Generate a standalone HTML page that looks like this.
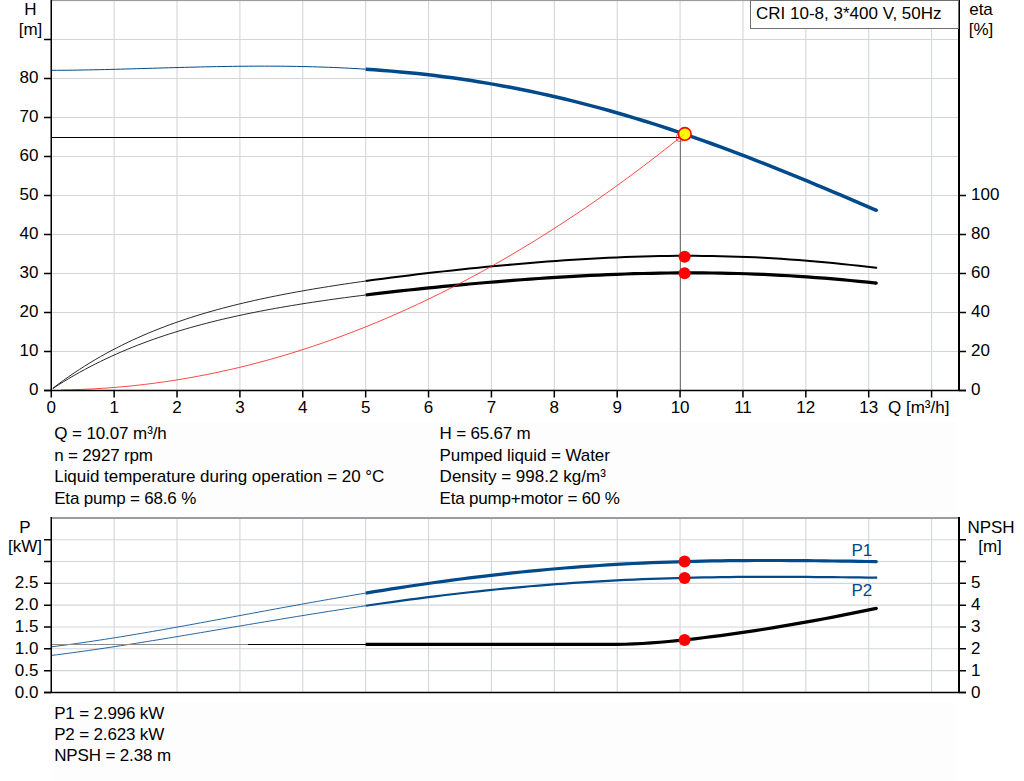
<!DOCTYPE html><html><head><meta charset="utf-8"><style>html,body{margin:0;padding:0;background:#fff;width:1024px;height:781px;overflow:hidden}svg{display:block}</style></head><body>
<svg width="1024" height="781" viewBox="0 0 1024 781">
<rect width="1024" height="781" fill="#fff"/>
<rect x="51.5" y="423" width="905.5" height="94" fill="#fdfdfd"/>
<rect x="51.5" y="703.3" width="905.5" height="80" fill="#fdfdfd"/>
<rect x="886" y="396.7" width="71" height="21.3" fill="#fdfdfd"/>
<path d="M114.15,0 V390 M177.03,0 V390 M239.91,0 V390 M302.79,0 V390 M365.67,0 V390 M428.55,0 V390 M491.43,0 V390 M554.31,0 V390 M617.19,0 V390 M680.07,0 V390 M742.95,0 V390 M805.83,0 V390 M868.71,0 V390 M931.59,0 V390 M51,351.50 H959 M51,312.50 H959 M51,273.50 H959 M51,234.50 H959 M51,195.50 H959 M51,156.50 H959 M51,117.50 H959 M51,78.50 H959 M51,39.50 H959" stroke="#d3d6d9" stroke-width="1.1" fill="none"/>
<rect x="51" y="0" width="908" height="1.1" fill="#9a9c9f"/>
<path d="M51,137.5 H680" stroke="#000" stroke-width="1.2" fill="none"/>
<path d="M680.4,137.5 V390" stroke="#6a6a6a" stroke-width="1" fill="none"/>
<path d="M51.27,70.34 L56.60,70.31 L61.93,70.28 L67.26,70.23 L72.59,70.16 L77.91,70.09 L83.24,70.00 L88.57,69.90 L93.90,69.79 L99.23,69.68 L104.56,69.56 L109.89,69.43 L115.22,69.29 L120.54,69.15 L125.87,69.00 L131.20,68.85 L136.53,68.70 L141.86,68.55 L147.19,68.40 L152.52,68.24 L157.85,68.09 L163.18,67.93 L168.50,67.78 L173.83,67.63 L179.16,67.49 L184.49,67.35 L189.82,67.21 L195.15,67.08 L200.48,66.95 L205.81,66.83 L211.13,66.72 L216.46,66.62 L221.79,66.52 L227.12,66.44 L232.45,66.36 L237.78,66.29 L243.11,66.24 L248.44,66.20 L253.76,66.17 L259.09,66.15 L264.42,66.14 L269.75,66.15 L275.08,66.17 L280.41,66.21 L285.74,66.26 L291.07,66.33 L296.40,66.42 L301.72,66.52 L307.05,66.64 L312.38,66.77 L317.71,66.93 L323.04,67.10 L328.37,67.29 L333.70,67.50 L339.03,67.73 L344.35,67.98 L349.68,68.25 L355.01,68.54 L360.34,68.85 L365.67,69.19" stroke="#004a8c" stroke-width="1" fill="none"/>
<path d="M365.67,69.19 L374.32,69.77 L382.98,70.42 L391.63,71.13 L400.29,71.89 L408.94,72.72 L417.59,73.61 L426.25,74.57 L434.90,75.59 L443.56,76.68 L452.21,77.83 L460.86,79.05 L469.52,80.33 L478.17,81.69 L486.83,83.11 L495.48,84.61 L504.13,86.17 L512.79,87.80 L521.44,89.50 L530.10,91.27 L538.75,93.11 L547.40,95.02 L556.06,96.99 L564.71,99.04 L573.37,101.16 L582.02,103.34 L590.67,105.59 L599.33,107.91 L607.98,110.29 L616.64,112.74 L625.29,115.26 L633.94,117.84 L642.60,120.48 L651.25,123.19 L659.91,125.95 L668.56,128.78 L677.21,131.66 L685.87,134.61 L694.52,137.60 L703.18,140.66 L711.83,143.76 L720.48,146.92 L729.14,150.13 L737.79,153.38 L746.45,156.69 L755.10,160.03 L763.75,163.42 L772.41,166.85 L781.06,170.32 L789.72,173.82 L798.37,177.36 L807.02,180.92 L815.68,184.52 L824.33,188.14 L832.99,191.79 L841.64,195.46 L850.29,199.14 L858.95,202.85 L867.60,206.56 L876.26,210.29" stroke="#004a8c" stroke-width="3.5" fill="none"/><circle cx="876.26" cy="210.29" r="1.75" fill="#004a8c"/>
<path d="M52.84,388.33 L58.14,384.30 L63.45,380.41 L68.75,376.65 L74.05,373.01 L79.35,369.50 L84.66,366.10 L89.96,362.81 L95.26,359.64 L100.56,356.57 L105.86,353.60 L111.17,350.73 L116.47,347.96 L121.77,345.28 L127.07,342.69 L132.37,340.19 L137.68,337.77 L142.98,335.43 L148.28,333.17 L153.58,330.98 L158.89,328.87 L164.19,326.83 L169.49,324.85 L174.79,322.94 L180.09,321.09 L185.40,319.29 L190.70,317.56 L196.00,315.88 L201.30,314.26 L206.60,312.68 L211.91,311.16 L217.21,309.68 L222.51,308.24 L227.81,306.85 L233.12,305.50 L238.42,304.19 L243.72,302.92 L249.02,301.69 L254.32,300.48 L259.63,299.32 L264.93,298.18 L270.23,297.07 L275.53,296.00 L280.84,294.95 L286.14,293.92 L291.44,292.93 L296.74,291.95 L302.04,291.00 L307.35,290.07 L312.65,289.16 L317.95,288.27 L323.25,287.41 L328.55,286.55 L333.86,285.72 L339.16,284.90 L344.46,284.10 L349.76,283.32 L355.07,282.54 L360.37,281.79 L365.67,281.04" stroke="#111" stroke-width="0.9" fill="none"/>
<path d="M365.67,281.04 L374.32,279.85 L382.98,278.70 L391.63,277.57 L400.29,276.47 L408.94,275.40 L417.59,274.36 L426.25,273.34 L434.90,272.34 L443.56,271.37 L452.21,270.42 L460.86,269.49 L469.52,268.59 L478.17,267.71 L486.83,266.86 L495.48,266.03 L504.13,265.22 L512.79,264.44 L521.44,263.68 L530.10,262.95 L538.75,262.25 L547.40,261.58 L556.06,260.94 L564.71,260.33 L573.37,259.75 L582.02,259.21 L590.67,258.70 L599.33,258.23 L607.98,257.79 L616.64,257.40 L625.29,257.04 L633.94,256.73 L642.60,256.46 L651.25,256.23 L659.91,256.05 L668.56,255.92 L677.21,255.84 L685.87,255.80 L694.52,255.81 L703.18,255.88 L711.83,255.99 L720.48,256.16 L729.14,256.38 L737.79,256.66 L746.45,256.98 L755.10,257.36 L763.75,257.79 L772.41,258.28 L781.06,258.82 L789.72,259.40 L798.37,260.04 L807.02,260.73 L815.68,261.47 L824.33,262.25 L832.99,263.08 L841.64,263.96 L850.29,264.87 L858.95,265.82 L867.60,266.81 L876.26,267.82" stroke="#000" stroke-width="2.0" fill="none"/><circle cx="876.26" cy="267.82" r="1.00" fill="#000"/>
<path d="M52.84,388.46 L58.14,385.05 L63.45,381.75 L68.75,378.55 L74.05,375.46 L79.35,372.46 L84.66,369.56 L89.96,366.75 L95.26,364.03 L100.56,361.40 L105.86,358.85 L111.17,356.38 L116.47,354.00 L121.77,351.68 L127.07,349.45 L132.37,347.28 L137.68,345.18 L142.98,343.15 L148.28,341.19 L153.58,339.28 L158.89,337.44 L164.19,335.65 L169.49,333.92 L174.79,332.25 L180.09,330.62 L185.40,329.05 L190.70,327.52 L196.00,326.04 L201.30,324.61 L206.60,323.22 L211.91,321.87 L217.21,320.56 L222.51,319.29 L227.81,318.05 L233.12,316.85 L238.42,315.69 L243.72,314.55 L249.02,313.45 L254.32,312.38 L259.63,311.34 L264.93,310.32 L270.23,309.33 L275.53,308.37 L280.84,307.43 L286.14,306.51 L291.44,305.62 L296.74,304.75 L302.04,303.89 L307.35,303.06 L312.65,302.25 L317.95,301.45 L323.25,300.68 L328.55,299.91 L333.86,299.17 L339.16,298.44 L344.46,297.72 L349.76,297.02 L355.07,296.33 L360.37,295.66 L365.67,294.99" stroke="#111" stroke-width="0.9" fill="none"/>
<path d="M365.67,294.99 L374.32,293.94 L382.98,292.91 L391.63,291.91 L400.29,290.94 L408.94,289.99 L417.59,289.07 L426.25,288.17 L434.90,287.30 L443.56,286.45 L452.21,285.62 L460.86,284.81 L469.52,284.02 L478.17,283.26 L486.83,282.51 L495.48,281.79 L504.13,281.09 L512.79,280.41 L521.44,279.76 L530.10,279.13 L538.75,278.52 L547.40,277.94 L556.06,277.39 L564.71,276.86 L573.37,276.36 L582.02,275.89 L590.67,275.45 L599.33,275.04 L607.98,274.66 L616.64,274.31 L625.29,274.00 L633.94,273.72 L642.60,273.48 L651.25,273.28 L659.91,273.11 L668.56,272.99 L677.21,272.90 L685.87,272.86 L694.52,272.86 L703.18,272.90 L711.83,272.98 L720.48,273.11 L729.14,273.28 L737.79,273.50 L746.45,273.76 L755.10,274.07 L763.75,274.43 L772.41,274.83 L781.06,275.28 L789.72,275.77 L798.37,276.32 L807.02,276.90 L815.68,277.53 L824.33,278.21 L832.99,278.92 L841.64,279.68 L850.29,280.48 L858.95,281.32 L867.60,282.20 L876.26,283.11" stroke="#000" stroke-width="3.2" fill="none"/><circle cx="876.26" cy="283.11" r="1.60" fill="#000"/>
<path d="M60.70,389.94 L71.20,389.75 L81.70,389.41 L92.20,388.93 L102.69,388.31 L113.19,387.55 L123.69,386.65 L134.19,385.61 L144.68,384.43 L155.18,383.10 L165.68,381.64 L176.18,380.04 L186.68,378.29 L197.17,376.41 L207.67,374.38 L218.17,372.21 L228.67,369.90 L239.16,367.46 L249.66,364.87 L260.16,362.14 L270.66,359.26 L281.16,356.25 L291.65,353.10 L302.15,349.81 L312.65,346.37 L323.15,342.80 L333.64,339.08 L344.14,335.23 L354.64,331.23 L365.14,327.09 L375.63,322.81 L386.13,318.39 L396.63,313.83 L407.13,309.13 L417.63,304.29 L428.12,299.31 L438.62,294.19 L449.12,288.92 L459.62,283.52 L470.11,277.97 L480.61,272.29 L491.11,266.46 L501.61,260.49 L512.11,254.39 L522.60,248.14 L533.10,241.75 L543.60,235.22 L554.10,228.55 L564.59,221.73 L575.09,214.78 L585.59,207.69 L596.09,200.45 L606.59,193.08 L617.08,185.56 L627.58,177.91 L638.08,170.11 L648.58,162.17 L659.07,154.09 L669.57,145.87 L680.07,137.51" stroke="#ff1a1a" stroke-width="0.8" fill="none"/>
<path d="M44,390.50 H51 M44,351.50 H51 M44,312.50 H51 M44,273.50 H51 M44,234.50 H51 M44,195.50 H51 M44,156.50 H51 M44,117.50 H51 M44,78.50 H51 M44,39.50 H51 M51.27,390 V397.5 M114.15,390 V397.5 M177.03,390 V397.5 M239.91,390 V397.5 M302.79,390 V397.5 M365.67,390 V397.5 M428.55,390 V397.5 M491.43,390 V397.5 M554.31,390 V397.5 M617.19,390 V397.5 M680.07,390 V397.5 M742.95,390 V397.5 M805.83,390 V397.5 M868.71,390 V397.5 M931.59,390 V397.5 M959,390.50 H966 M959,351.50 H966 M959,312.50 H966 M959,273.50 H966 M959,234.50 H966 M959,195.50 H966" stroke="#000" stroke-width="1.5" fill="none"/>
<path d="M51.25,0 V391 M44,390.5 H966" stroke="#000" stroke-width="1.5" fill="none"/>
<path d="M959,0 V391" stroke="#000" stroke-width="2" fill="none"/>
<circle cx="680" cy="137.7" r="3.9" fill="none" stroke="#ff3030" stroke-opacity="0.85" stroke-width="0.9"/>
<circle cx="684.8" cy="133.9" r="6.3" fill="#ffff00" stroke="#ff0000" stroke-width="1.6"/>
<path d="M680,137.6 L684.5,134.2" stroke="#ff6000" stroke-opacity="0.5" stroke-width="0.8"/>
<circle cx="684.6" cy="256.8" r="6" fill="#ff0000"/>
<circle cx="684.6" cy="273.2" r="6" fill="#ff0000"/>
<text x="38.5" y="395.1" text-anchor="end" font-family="Liberation Sans" font-size="17">0</text>
<text x="38.5" y="356.1" text-anchor="end" font-family="Liberation Sans" font-size="17">10</text>
<text x="38.5" y="317.1" text-anchor="end" font-family="Liberation Sans" font-size="17">20</text>
<text x="38.5" y="278.1" text-anchor="end" font-family="Liberation Sans" font-size="17">30</text>
<text x="38.5" y="239.1" text-anchor="end" font-family="Liberation Sans" font-size="17">40</text>
<text x="38.5" y="200.1" text-anchor="end" font-family="Liberation Sans" font-size="17">50</text>
<text x="38.5" y="161.1" text-anchor="end" font-family="Liberation Sans" font-size="17">60</text>
<text x="38.5" y="122.1" text-anchor="end" font-family="Liberation Sans" font-size="17">70</text>
<text x="38.5" y="83.1" text-anchor="end" font-family="Liberation Sans" font-size="17">80</text>
<text x="51.3" y="412.5" text-anchor="middle" font-family="Liberation Sans" font-size="17">0</text>
<text x="114.2" y="412.5" text-anchor="middle" font-family="Liberation Sans" font-size="17">1</text>
<text x="177.0" y="412.5" text-anchor="middle" font-family="Liberation Sans" font-size="17">2</text>
<text x="239.9" y="412.5" text-anchor="middle" font-family="Liberation Sans" font-size="17">3</text>
<text x="302.8" y="412.5" text-anchor="middle" font-family="Liberation Sans" font-size="17">4</text>
<text x="365.7" y="412.5" text-anchor="middle" font-family="Liberation Sans" font-size="17">5</text>
<text x="428.6" y="412.5" text-anchor="middle" font-family="Liberation Sans" font-size="17">6</text>
<text x="491.4" y="412.5" text-anchor="middle" font-family="Liberation Sans" font-size="17">7</text>
<text x="554.3" y="412.5" text-anchor="middle" font-family="Liberation Sans" font-size="17">8</text>
<text x="617.2" y="412.5" text-anchor="middle" font-family="Liberation Sans" font-size="17">9</text>
<text x="680.1" y="412.5" text-anchor="middle" font-family="Liberation Sans" font-size="17">10</text>
<text x="743.0" y="412.5" text-anchor="middle" font-family="Liberation Sans" font-size="17">11</text>
<text x="805.8" y="412.5" text-anchor="middle" font-family="Liberation Sans" font-size="17">12</text>
<text x="868.7" y="412.5" text-anchor="middle" font-family="Liberation Sans" font-size="17">13</text>
<text x="971" y="395.1" font-family="Liberation Sans" font-size="17">0</text>
<text x="971" y="356.1" font-family="Liberation Sans" font-size="17">20</text>
<text x="971" y="317.1" font-family="Liberation Sans" font-size="17">40</text>
<text x="971" y="278.1" font-family="Liberation Sans" font-size="17">60</text>
<text x="971" y="239.1" font-family="Liberation Sans" font-size="17">80</text>
<text x="971" y="200.1" font-family="Liberation Sans" font-size="17">100</text>
<text x="888" y="412.5" font-family="Liberation Sans" font-size="17">Q [m³/h]</text>
<text x="30.5" y="15" text-anchor="middle" font-family="Liberation Sans" font-size="17">H</text>
<text x="30.5" y="35" text-anchor="middle" font-family="Liberation Sans" font-size="17">[m]</text>
<text x="981" y="15" text-anchor="middle" font-family="Liberation Sans" font-size="17">eta</text>
<text x="981" y="35" text-anchor="middle" font-family="Liberation Sans" font-size="17">[%]</text>
<rect x="750.5" y="0.5" width="208" height="28" fill="#fff" stroke="#6e6e6e" stroke-width="1"/>
<text x="756" y="19" font-family="Liberation Sans" font-size="17">CRI 10-8, 3*400 V, 50Hz</text>
<text x="54.2" y="439.0" textLength="112.58" font-family="Liberation Sans" font-size="17">Q = 10.07 m³/h</text>
<text x="54.2" y="460.6" textLength="98.76" font-family="Liberation Sans" font-size="17">n = 2927 rpm</text>
<text x="54.2" y="482.2" textLength="330.14" font-family="Liberation Sans" font-size="17">Liquid temperature during operation = 20 °C</text>
<text x="54.2" y="503.8" textLength="142.08" font-family="Liberation Sans" font-size="17">Eta pump = 68.6 %</text>
<text x="439.6" y="439.0" textLength="91.18" font-family="Liberation Sans" font-size="17">H = 65.67 m</text>
<text x="439.6" y="460.6" textLength="170.23" font-family="Liberation Sans" font-size="17">Pumped liquid = Water</text>
<text x="439.6" y="482.2" textLength="166.23" font-family="Liberation Sans" font-size="17">Density = 998.2 kg/m³</text>
<text x="439.6" y="503.8" textLength="180.28" font-family="Liberation Sans" font-size="17">Eta pump+motor = 60 %</text>
<path d="M114.15,518 V692 M177.03,518 V692 M239.91,518 V692 M302.79,518 V692 M365.67,518 V692 M428.55,518 V692 M491.43,518 V692 M554.31,518 V692 M617.19,518 V692 M680.07,518 V692 M742.95,518 V692 M805.83,518 V692 M868.71,518 V692 M931.59,518 V692 M51,670.63 H959 M51,648.81 H959 M51,626.99 H959 M51,605.17 H959 M51,583.35 H959 M51,561.53 H959 M51,539.71 H959" stroke="#d3d6d9" stroke-width="1.1" fill="none"/>
<path d="M51,518 H959" stroke="#9a9c9f" stroke-width="2"/>
<path d="M51.27,646.82 L56.60,646.16 L61.93,645.47 L67.26,644.77 L72.59,644.05 L77.91,643.31 L83.24,642.55 L88.57,641.78 L93.90,640.99 L99.23,640.18 L104.56,639.36 L109.89,638.53 L115.22,637.68 L120.54,636.83 L125.87,635.96 L131.20,635.07 L136.53,634.18 L141.86,633.28 L147.19,632.37 L152.52,631.45 L157.85,630.52 L163.18,629.58 L168.50,628.64 L173.83,627.69 L179.16,626.73 L184.49,625.77 L189.82,624.80 L195.15,623.83 L200.48,622.85 L205.81,621.87 L211.13,620.89 L216.46,619.91 L221.79,618.92 L227.12,617.93 L232.45,616.94 L237.78,615.95 L243.11,614.96 L248.44,613.97 L253.76,612.99 L259.09,612.00 L264.42,611.01 L269.75,610.03 L275.08,609.05 L280.41,608.07 L285.74,607.10 L291.07,606.12 L296.40,605.16 L301.72,604.19 L307.05,603.24 L312.38,602.28 L317.71,601.34 L323.04,600.39 L328.37,599.46 L333.70,598.53 L339.03,597.61 L344.35,596.69 L349.68,595.79 L355.01,594.89 L360.34,593.99 L365.67,593.11" stroke="#004a8c" stroke-width="0.85" fill="none"/>
<path d="M365.67,593.11 L374.32,591.70 L382.98,590.30 L391.63,588.94 L400.29,587.59 L408.94,586.28 L417.59,584.99 L426.25,583.73 L434.90,582.51 L443.56,581.31 L452.21,580.14 L460.86,579.01 L469.52,577.90 L478.17,576.83 L486.83,575.80 L495.48,574.79 L504.13,573.82 L512.79,572.89 L521.44,571.99 L530.10,571.12 L538.75,570.30 L547.40,569.50 L556.06,568.74 L564.71,568.02 L573.37,567.33 L582.02,566.68 L590.67,566.06 L599.33,565.48 L607.98,564.94 L616.64,564.43 L625.29,563.95 L633.94,563.50 L642.60,563.09 L651.25,562.72 L659.91,562.37 L668.56,562.06 L677.21,561.78 L685.87,561.53 L694.52,561.30 L703.18,561.11 L711.83,560.95 L720.48,560.81 L729.14,560.70 L737.79,560.61 L746.45,560.55 L755.10,560.51 L763.75,560.49 L772.41,560.49 L781.06,560.52 L789.72,560.56 L798.37,560.61 L807.02,560.68 L815.68,560.77 L824.33,560.87 L832.99,560.98 L841.64,561.09 L850.29,561.22 L858.95,561.34 L867.60,561.48 L876.26,561.61" stroke="#004a8c" stroke-width="3.2" fill="none"/><circle cx="876.26" cy="561.61" r="1.60" fill="#004a8c"/>
<path d="M51.27,655.46 L56.60,654.79 L61.93,654.11 L67.26,653.41 L72.59,652.70 L77.91,651.97 L83.24,651.23 L88.57,650.48 L93.90,649.72 L99.23,648.94 L104.56,648.16 L109.89,647.36 L115.22,646.55 L120.54,645.74 L125.87,644.91 L131.20,644.08 L136.53,643.24 L141.86,642.39 L147.19,641.53 L152.52,640.67 L157.85,639.80 L163.18,638.93 L168.50,638.05 L173.83,637.17 L179.16,636.28 L184.49,635.39 L189.82,634.49 L195.15,633.60 L200.48,632.70 L205.81,631.80 L211.13,630.90 L216.46,629.99 L221.79,629.09 L227.12,628.19 L232.45,627.28 L237.78,626.38 L243.11,625.48 L248.44,624.58 L253.76,623.68 L259.09,622.78 L264.42,621.89 L269.75,621.00 L275.08,620.11 L280.41,619.22 L285.74,618.34 L291.07,617.46 L296.40,616.59 L301.72,615.72 L307.05,614.86 L312.38,614.00 L317.71,613.15 L323.04,612.30 L328.37,611.46 L333.70,610.63 L339.03,609.80 L344.35,608.98 L349.68,608.17 L355.01,607.37 L360.34,606.57 L365.67,605.78" stroke="#004a8c" stroke-width="0.85" fill="none"/>
<path d="M365.67,605.78 L374.32,604.51 L382.98,603.27 L391.63,602.05 L400.29,600.86 L408.94,599.69 L417.59,598.55 L426.25,597.43 L434.90,596.34 L443.56,595.27 L452.21,594.24 L460.86,593.23 L469.52,592.26 L478.17,591.31 L486.83,590.39 L495.48,589.51 L504.13,588.65 L512.79,587.83 L521.44,587.03 L530.10,586.27 L538.75,585.54 L547.40,584.84 L556.06,584.17 L564.71,583.54 L573.37,582.93 L582.02,582.36 L590.67,581.81 L599.33,581.30 L607.98,580.82 L616.64,580.37 L625.29,579.95 L633.94,579.56 L642.60,579.20 L651.25,578.86 L659.91,578.56 L668.56,578.28 L677.21,578.03 L685.87,577.81 L694.52,577.61 L703.18,577.44 L711.83,577.29 L720.48,577.16 L729.14,577.06 L737.79,576.97 L746.45,576.91 L755.10,576.87 L763.75,576.85 L772.41,576.84 L781.06,576.85 L789.72,576.88 L798.37,576.91 L807.02,576.97 L815.68,577.03 L824.33,577.10 L832.99,577.18 L841.64,577.27 L850.29,577.36 L858.95,577.45 L867.60,577.55 L876.26,577.65" stroke="#004a8c" stroke-width="2.2" fill="none"/><circle cx="876.26" cy="577.65" r="1.10" fill="#004a8c"/>
<path d="M51.27,644.5 H248" stroke="#8c8c8c" stroke-width="1" fill="none"/>
<path d="M248,644.5 H366" stroke="#000" stroke-width="1" fill="none"/>
<path d="M365.67,644.29 L374.32,644.29 L382.98,644.29 L391.63,644.29 L400.29,644.29 L408.94,644.29 L417.59,644.29 L426.25,644.29 L434.90,644.29 L443.56,644.29 L452.21,644.29 L460.86,644.29 L469.52,644.29 L478.17,644.29 L486.83,644.29 L495.48,644.29 L504.13,644.29 L512.79,644.29 L521.44,644.29 L530.10,644.29 L538.75,644.29 L547.40,644.29 L556.06,644.29 L564.71,644.29 L573.37,644.29 L582.02,644.29 L590.67,644.29 L599.33,644.29 L607.98,644.29 L616.64,644.29 L625.29,644.27 L633.94,643.97 L642.60,643.50 L651.25,642.92 L659.91,642.25 L668.56,641.49 L677.21,640.66 L685.87,639.76 L694.52,638.80 L703.18,637.78 L711.83,636.70 L720.48,635.58 L729.14,634.40 L737.79,633.18 L746.45,631.91 L755.10,630.60 L763.75,629.25 L772.41,627.86 L781.06,626.42 L789.72,624.95 L798.37,623.44 L807.02,621.90 L815.68,620.32 L824.33,618.70 L832.99,617.06 L841.64,615.37 L850.29,613.66 L858.95,611.92 L867.60,610.14 L876.26,608.33" stroke="#000" stroke-width="3.2" fill="none"/><circle cx="876.26" cy="608.33" r="1.60" fill="#000"/>
<path d="M44,692.45 H51 M959,692.45 H966 M44,670.63 H51 M959,670.63 H966 M44,648.81 H51 M959,648.81 H966 M44,626.99 H51 M959,626.99 H966 M44,605.17 H51 M959,605.17 H966 M44,583.35 H51 M959,583.35 H966 M44,561.53 H51 M959,561.53 H966 M44,539.71 H51 M959,539.71 H966" stroke="#000" stroke-width="1.5" fill="none"/>
<path d="M51.25,517 V693 M44,692.45 H966" stroke="#000" stroke-width="1.5" fill="none"/>
<path d="M959,517 V693" stroke="#000" stroke-width="2" fill="none"/>
<text x="38.5" y="697.5" text-anchor="end" font-family="Liberation Sans" font-size="17">0.0</text>
<text x="38.5" y="675.6" text-anchor="end" font-family="Liberation Sans" font-size="17">0.5</text>
<text x="38.5" y="653.8" text-anchor="end" font-family="Liberation Sans" font-size="17">1.0</text>
<text x="38.5" y="632.0" text-anchor="end" font-family="Liberation Sans" font-size="17">1.5</text>
<text x="38.5" y="610.2" text-anchor="end" font-family="Liberation Sans" font-size="17">2.0</text>
<text x="38.5" y="588.4" text-anchor="end" font-family="Liberation Sans" font-size="17">2.5</text>
<text x="971" y="697.5" font-family="Liberation Sans" font-size="17">0</text>
<text x="971" y="675.6" font-family="Liberation Sans" font-size="17">1</text>
<text x="971" y="653.8" font-family="Liberation Sans" font-size="17">2</text>
<text x="971" y="632.0" font-family="Liberation Sans" font-size="17">3</text>
<text x="971" y="610.2" font-family="Liberation Sans" font-size="17">4</text>
<text x="971" y="588.4" font-family="Liberation Sans" font-size="17">5</text>
<text x="25" y="533" text-anchor="middle" font-family="Liberation Sans" font-size="17">P</text>
<text x="25" y="552" text-anchor="middle" font-family="Liberation Sans" font-size="17">[kW]</text>
<text x="991" y="533" text-anchor="middle" font-family="Liberation Sans" font-size="17">NPSH</text>
<text x="990" y="552" text-anchor="middle" font-family="Liberation Sans" font-size="17">[m]</text>
<text x="851.5" y="556" fill="#004a8c" font-family="Liberation Sans" font-size="17">P1</text>
<text x="851.5" y="596" fill="#004a8c" font-family="Liberation Sans" font-size="17">P2</text>
<circle cx="684.6" cy="561.5" r="6" fill="#ff0000"/>
<circle cx="684.6" cy="577.9" r="6" fill="#ff0000"/>
<circle cx="684.6" cy="640.1" r="6" fill="#ff0000"/>
<text x="54.2" y="718.8" textLength="109.98" font-family="Liberation Sans" font-size="17">P1 = 2.996 kW</text>
<text x="54.2" y="740.1" textLength="109.98" font-family="Liberation Sans" font-size="17">P2 = 2.623 kW</text>
<text x="54.2" y="761.4" textLength="116.88" font-family="Liberation Sans" font-size="17">NPSH = 2.38 m</text>
</svg></body></html>
